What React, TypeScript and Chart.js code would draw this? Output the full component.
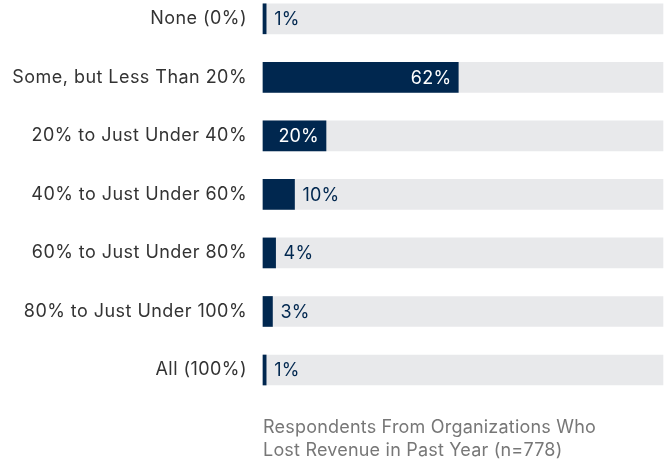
import React, { useEffect, useRef } from "react";
import { Chart, registerables } from "chart.js";

Chart.register(...registerables);

const categories = [
  "None (0%)",
  "Some, but Less Than 20%",
  "20% to Just Under 40%",
  "40% to Just Under 60%",
  "60% to Just Under 80%",
  "80% to Just Under 100%",
  "All (100%)",
];
const values = [1, 62, 20, 10, 4, 3, 1];
const trackMax = 127;
const trackValues = categories.map(() => trackMax);
const footnote = ["Respondents From Organizations Who", "Lost Revenue in Past Year (n=778)"];

const NAVY = "#00274f";
const FONT = "Inter, 'Open Sans', sans-serif";

const spacing = {
  id: "spacing",
  beforeDraw(chart: any) {
    chart.ctx.letterSpacing = "0.45px";
  },
};

const valueLabels = {
  id: "valueLabels",
  afterDatasetsDraw(chart: any) {
    const ctx = chart.ctx;
    const meta = chart.getDatasetMeta(0);
    ctx.save();
    ctx.letterSpacing = "0.2px";
    ctx.font = `18px ${FONT}`;
    ctx.textBaseline = "middle";
    meta.data.forEach((bar: any, i: number) => {
      const text = `${values[i]}%`;
      const w = ctx.measureText(text).width;
      const barW = bar.x - bar.base;
      if (w + 16 < barW) {
        ctx.fillStyle = "#ffffff";
        ctx.textAlign = "right";
        ctx.fillText(text, bar.x - 7, bar.y + 1);
      } else {
        ctx.fillStyle = NAVY;
        ctx.textAlign = "left";
        ctx.fillText(text, bar.x + 8, bar.y + 1);
      }
    });
    ctx.restore();
  },
};

export default function App() {
  const ref = useRef<HTMLCanvasElement | null>(null);
  useEffect(() => {
    if (!ref.current) return;
    const chart = new Chart(ref.current, {
      type: "bar",
      data: {
        labels: categories,
        datasets: [
          {
            data: values,
            backgroundColor: NAVY,
            barThickness: 30,
            grouped: false,
            clip: false as any,
          },
          {
            data: trackValues,
            backgroundColor: "#e8e9eb",
            barThickness: 30,
            grouped: false,
            clip: false as any,
          },
        ],
      },
      options: {
        indexAxis: "y",
        animation: false,
        responsive: true,
        maintainAspectRatio: false,
        layout: { padding: { top: 17, bottom: 92, left: 0, right: 3 } },
        plugins: { legend: { display: false }, tooltip: { enabled: false } },
        scales: {
          x: { display: false, min: 0, max: trackMax },
          y: {
            offset: false,
            grid: { display: false },
            border: { display: false },
            ticks: {
              padding: 8,
              color: "#333333",
              font: { family: FONT, size: 18 },
            },
            afterFit(scale: any) {
              scale.width = 263;
            },
          },
        },
      },
      plugins: [spacing, valueLabels],
    });
    return () => chart.destroy();
  }, []);
  return (
    <div style={{ position: "absolute", left: 0, top: 0, width: 666, height: 462 }}>
      <canvas ref={ref} />
      <div
        style={{
          position: "absolute",
          left: 263,
          top: 415,
          fontFamily: FONT,
          fontSize: 18,
          letterSpacing: "0.2px",
          lineHeight: "23px",
          color: "#777777",
          whiteSpace: "nowrap",
        }}
      >
        {footnote.map((l) => (
          <div key={l}>{l}</div>
        ))}
      </div>
    </div>
  );
}
